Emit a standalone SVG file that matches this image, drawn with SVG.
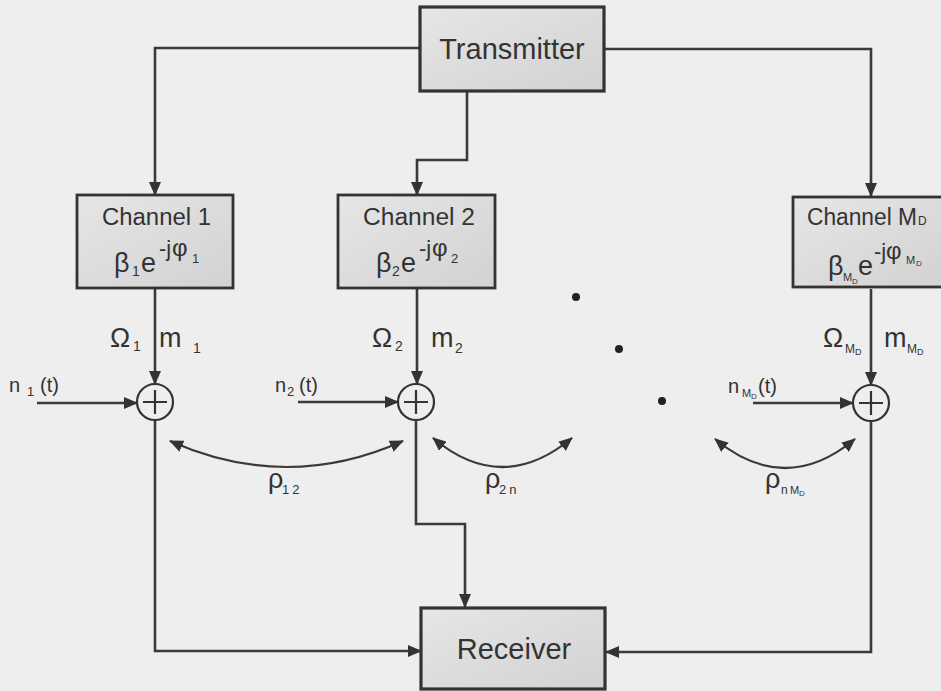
<svg xmlns="http://www.w3.org/2000/svg" width="941" height="691" viewBox="0 0 941 691">
<defs>
<linearGradient id="boxg" x1="0" y1="0" x2="1" y2="1">
<stop offset="0" stop-color="#e6e6e6"/>
<stop offset="1" stop-color="#d2d2d2"/>
</linearGradient>
<marker id="ah" viewBox="0 0 14 12" refX="13" refY="6" markerWidth="14" markerHeight="12" markerUnits="userSpaceOnUse" orient="auto-start-reverse">
<path d="M0,0 L14,6 L0,12 Z" fill="#333"/>
</marker>
<style>
.box{fill:url(#boxg);stroke:#333;stroke-width:2.8}
.arr{fill:none;stroke:#3a3a3a;stroke-width:2.6;marker-end:url(#ah)}
.dbl{fill:none;stroke:#3a3a3a;stroke-width:2.2;marker-start:url(#ah);marker-end:url(#ah)}
.sum{fill:none;stroke:#333;stroke-width:2.2}
text{font-family:"Liberation Sans",Arial,"DejaVu Sans",sans-serif;fill:#333}
.big{font-size:29px}
.ch{font-size:23px}
.g{font-size:27px}
.sb{font-size:14px}
.n{font-size:20px}
.dot{fill:#222}
</style>
</defs>
<rect width="941" height="691" fill="#eeeeee"/>

<g id="connectors">
<path class="arr" d="M420,48 H155 V195"/>
<path class="arr" d="M467,91 V160 H417 V195"/>
<path class="arr" d="M604,49 H871 V196"/>
<path class="arr" d="M155,288 V384"/>
<path class="arr" d="M417,288 V384"/>
<path class="arr" d="M871,289 V385"/>
<path class="arr" d="M37,403 H137"/>
<path class="arr" d="M298,402 H398"/>
<path class="arr" d="M753,403 H853"/>
<path class="arr" d="M155,420 V651 H421"/>
<path class="arr" d="M416,420 V524 H465 V607"/>
<path class="arr" d="M871,421 V652 H606"/>
<path class="dbl" d="M170,441 Q287,493 403,441"/>
<path class="dbl" d="M433,438 Q502,496 572,438"/>
<path class="dbl" d="M715,439 Q785,497 855,439"/>
</g>

<g id="transmitter">
<rect class="box" x="420" y="7" width="184" height="84" style="stroke-width:3.2"/>
<text class="big" x="512" y="59" text-anchor="middle">Transmitter</text>
</g>

<g id="receiver">
<rect class="box" x="421" y="608" width="184" height="81" style="stroke-width:3.2"/>
<text class="big" x="514" y="659" text-anchor="middle">Receiver</text>
</g>

<g id="channel1">
<rect class="box" x="77" y="195" width="156" height="93"/>
<text class="ch" x="102" y="225" textLength="109" lengthAdjust="spacingAndGlyphs">Channel 1</text>
<text class="g" x="114" y="272">β</text>
<text class="sb" x="132" y="276">1</text>
<text class="g" x="141" y="272">e</text>
<text style="font-size:22px" x="159" y="256">-j</text>
<text style="font-size:24px" x="172" y="256">φ</text>
<text style="font-size:13px" x="192" y="263">1</text>
</g>

<g id="channel2">
<rect class="box" x="338" y="195" width="157" height="93"/>
<text class="ch" x="363" y="225" textLength="112" lengthAdjust="spacingAndGlyphs">Channel 2</text>
<text class="g" x="376" y="272">β</text>
<text class="sb" x="392" y="276">2</text>
<text class="g" x="401" y="272">e</text>
<text style="font-size:22px" x="419" y="256">-j</text>
<text style="font-size:24px" x="432" y="256">φ</text>
<text style="font-size:13px" x="451" y="263">2</text>
</g>

<g id="channelMD">
<rect class="box" x="793" y="197" width="150" height="90"/>
<text class="ch" x="807" y="225" textLength="110" lengthAdjust="spacingAndGlyphs">Channel M</text>
<text style="font-size:12px" x="918" y="225">D</text>
<text class="g" x="828" y="275">β</text>
<text style="font-size:11px" x="843" y="281">M</text>
<text style="font-size:8px" x="852" y="284">D</text>
<text class="g" x="858" y="275">e</text>
<text style="font-size:22px" x="874" y="259">-j</text>
<text style="font-size:24px" x="886" y="259">φ</text>
<text style="font-size:11px" x="906" y="264">M</text>
<text style="font-size:8px" x="916" y="266">D</text>
</g>

<g id="labels1">
<text class="g" x="110" y="347">Ω</text>
<text class="sb" x="133" y="351">1</text>
<text class="g" x="159" y="347">m</text>
<text class="sb" x="193" y="353">1</text>
</g>
<g id="labels2">
<text class="g" x="372" y="347">Ω</text>
<text class="sb" x="395" y="351">2</text>
<text class="g" x="431" y="347">m</text>
<text class="sb" x="455" y="353">2</text>
</g>
<g id="labelsMD">
<text class="g" x="823" y="347">Ω</text>
<text style="font-size:12px" x="845" y="353">M</text>
<text style="font-size:9px" x="855" y="355">D</text>
<text class="g" x="884" y="347">m</text>
<text style="font-size:12px" x="907" y="353">M</text>
<text style="font-size:9px" x="917" y="355">D</text>
</g>

<g id="sum1">
<circle class="sum" cx="155" cy="402" r="18"/>
<path class="sum" d="M143,402 H167 M155,390 V414"/>
</g>
<g id="sum2">
<circle class="sum" cx="416" cy="402" r="18"/>
<path class="sum" d="M404,402 H428 M416,390 V414"/>
</g>
<g id="sumMD">
<circle class="sum" cx="871" cy="403" r="18"/>
<path class="sum" d="M859,403 H883 M871,391 V415"/>
</g>

<g id="noise1">
<text class="n" x="9" y="392">n</text>
<text style="font-size:13px" x="27" y="396">1</text>
<text class="n" x="40" y="392">(t)</text>
</g>
<g id="noise2">
<text class="n" x="275" y="392">n</text>
<text style="font-size:13px" x="287" y="396">2</text>
<text class="n" x="299" y="392">(t)</text>
</g>
<g id="noiseMD">
<text class="n" x="728" y="393">n</text>
<text style="font-size:11px" x="742" y="397">M</text>
<text style="font-size:8px" x="751" y="399">D</text>
<text class="n" x="758" y="393">(t)</text>
</g>

<g id="rho12">
<text class="g" x="268" y="488">ρ</text>
<text style="font-size:13px;letter-spacing:3px" x="282" y="494">12</text>
</g>
<g id="rho2n">
<text class="g" x="485" y="488">ρ</text>
<text style="font-size:13px;letter-spacing:3px" x="499" y="494">2n</text>
</g>
<g id="rhonMD">
<text class="g" x="765" y="488">ρ</text>
<text style="font-size:12px" x="781" y="494">n</text>
<text style="font-size:11px" x="790" y="494">M</text>
<text style="font-size:8px" x="799" y="496">D</text>
</g>

<g id="dots">
<circle class="dot" cx="576" cy="297" r="4"/>
<circle class="dot" cx="619" cy="349" r="4"/>
<circle class="dot" cx="662" cy="401" r="4"/>
</g>
</svg>
